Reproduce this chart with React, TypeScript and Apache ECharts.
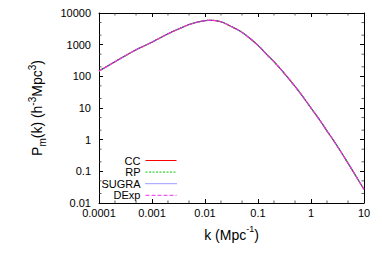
import React, { useEffect, useRef } from "react";
import * as echarts from "echarts";

// wavenumber k (h/Mpc)
const kValues = [0.0001, 0.0002, 0.0005, 0.001, 0.002, 0.003, 0.005, 0.007, 0.01, 0.013, 0.017, 0.022, 0.03, 0.04, 0.05, 0.07, 0.1, 0.15, 0.2, 0.3, 0.5, 0.7, 1, 1.5, 2, 3, 5, 7, 10];
// matter power spectra for the four models (visually identical)
const ccP = [148, 290, 690, 1200, 2200, 3000, 4300, 5100, 5750, 5900, 5650, 5000, 3850, 3050, 2450, 1600, 950, 470, 290, 135, 48, 23, 10, 3.9, 1.9, 0.7, 0.18, 0.072, 0.027];
const rpP = [148, 290, 690, 1200, 2200, 3000, 4300, 5100, 5750, 5900, 5650, 5000, 3850, 3050, 2450, 1600, 950, 470, 290, 135, 48, 23, 10, 3.9, 1.9, 0.7, 0.18, 0.072, 0.027];
const sugraP = [148, 290, 690, 1200, 2200, 3000, 4300, 5100, 5750, 5900, 5650, 5000, 3850, 3050, 2450, 1600, 950, 470, 290, 135, 48, 23, 10, 3.9, 1.9, 0.7, 0.18, 0.072, 0.027];
const dexpP = [148, 290, 690, 1200, 2200, 3000, 4300, 5100, 5750, 5900, 5650, 5000, 3850, 3050, 2450, 1600, 950, 470, 290, 135, 48, 23, 10, 3.9, 1.9, 0.7, 0.18, 0.072, 0.027];

const seriesNames = ["CC", "RP", "SUGRA", "DExp"];

const xTickLabels = ["0.0001", "0.001", "0.01", "0.1", "1", "10"]; // 10^-4 .. 10^1
const yTickLabels = ["0.01", "0.1", "1", "10", "100", "1000", "10000"]; // 10^-2 .. 10^4
const xMin = 0.0001, xMax = 10;
const yMin = 0.01, yMax = 10000;
const minorXTicks = [0.0002, 0.0005, 0.002, 0.005, 0.02, 0.05, 0.2, 0.5, 2, 5];
const minorYTicks = [0.02, 0.05, 0.2, 0.5, 2, 5, 20, 50, 200, 500, 2000, 5000];

const FONT = "'Liberation Sans', Arial, Helvetica, sans-serif";

function pairs(ys: number[]) {
  return kValues.map((k, i) => [k, ys[i]]);
}

export default function App() {
  const ref = useRef<HTMLDivElement>(null);
  useEffect(() => {
    if (!ref.current) return;
    const chart = echarts.init(ref.current, null, { renderer: "svg" });
    const xFmt = (v: number) => xTickLabels[Math.round(Math.log10(v)) + 4] ?? "";
    const yFmt = (v: number) => yTickLabels[Math.round(Math.log10(v)) + 2] ?? "";
    const axisLine = { show: true, onZero: false, lineStyle: { color: "#000", width: 1 } };
    const tickMark = { show: true, inside: true, length: 4, lineStyle: { color: "#000", width: 1 } };
    const minorStyle = { color: "#333" };
    const option: any = {
      animation: false,
      textStyle: { fontFamily: FONT },
      grid: { left: 99, right: 18, top: 13, bottom: 67, containLabel: false, outerBoundsMode: "none" },
      legend: {
        data: seriesNames,
        orient: "vertical",
        align: "right",
        right: 205,
        top: 155,
        padding: 0,
        itemWidth: 31,
        itemHeight: 11,
        itemGap: 0.6,
        selectedMode: false,
        itemStyle: { color: "rgba(0,0,0,0)", borderWidth: 0, opacity: 0 },
        lineStyle: { width: 1 },
        textStyle: { fontFamily: FONT, fontSize: 11, color: "#000", lineHeight: 11 },
      },
      xAxis: [
        {
          type: "log", logBase: 10, min: xMin, max: xMax, position: "bottom",
          axisLine, axisTick: tickMark, splitLine: { show: false },
          axisLabel: { formatter: xFmt, fontSize: 11, color: "#000", margin: 4, fontFamily: FONT },
          name: "{a|k (Mpc}{sup|-1}{a|)}",
          nameLocation: "middle",
          nameGap: 21,
          nameTextStyle: {
            rich: {
              a: { fontSize: 14, fontFamily: FONT, color: "#000", lineHeight: 18, verticalAlign: "bottom" },
              sup: { fontSize: 9, fontFamily: FONT, color: "#000", lineHeight: 18, verticalAlign: "top" },
            },
          },
        },
        {
          type: "log", logBase: 10, min: xMin, max: xMax, position: "top",
          axisLine, axisTick: tickMark, splitLine: { show: false }, axisLabel: { show: false },
        },
      ],
      yAxis: [
        {
          type: "log", logBase: 10, min: yMin, max: yMax, position: "left",
          axisLine, axisTick: tickMark, splitLine: { show: false },
          axisLabel: { formatter: yFmt, fontSize: 11, color: "#000", margin: 8, fontFamily: FONT },
          name: "{a|P}{sub|m}{a|(k) (h}{sup|-3}{a|Mpc}{sup|3}{a|)}",
          nameLocation: "middle",
          nameGap: 52,
          nameRotate: 90,
          nameTextStyle: {
            rich: {
              a: { fontSize: 14, fontFamily: FONT, color: "#000", lineHeight: 20, verticalAlign: "middle" },
              sub: { fontSize: 10, fontFamily: FONT, color: "#000", lineHeight: 20, verticalAlign: "bottom" },
              sup: { fontSize: 10, fontFamily: FONT, color: "#000", lineHeight: 20, verticalAlign: "top" },
            },
          },
        },
        {
          type: "log", logBase: 10, min: yMin, max: yMax, position: "right",
          axisLine, axisTick: tickMark, splitLine: { show: false }, axisLabel: { show: false },
        },
      ],
      series: [
        { name: "CC", type: "line", data: pairs(ccP), smooth: 0.3, symbol: "none", color: "#ff0000", lineStyle: { width: 1.1, color: "#ff0000", type: "solid" } },
        { name: "RP", type: "line", data: pairs(rpP), smooth: 0.3, symbol: "none", color: "#00cc00", lineStyle: { width: 1.1, color: "#00cc00", type: [2, 1.5] } },
        { name: "SUGRA", type: "line", data: pairs(sugraP), smooth: 0.3, symbol: "none", color: "#3a3aff", lineStyle: { width: 1.1, color: "#3a3aff", type: [1, 1] } },
        { name: "DExp", type: "line", data: pairs(dexpP), smooth: 0.3, symbol: "none", color: "#ee33ee", lineStyle: { width: 1.1, color: "#ee33ee", type: [4, 2] } },
        // minor ticks (log 2 and 5) on all four borders
        { type: "scatter", silent: true, clip: false, data: minorXTicks.map((k) => [k, yMin]), symbol: "rect", symbolSize: [1, 2.5], symbolOffset: [0, -1.25], itemStyle: minorStyle },
        { type: "scatter", silent: true, clip: false, data: minorXTicks.map((k) => [k, yMax]), symbol: "rect", symbolSize: [1, 2.5], symbolOffset: [0, 1.25], itemStyle: minorStyle },
        { type: "scatter", silent: true, clip: false, data: minorYTicks.map((p) => [xMin, p]), symbol: "rect", symbolSize: [2.5, 1], symbolOffset: [1.25, 0], itemStyle: minorStyle },
        { type: "scatter", silent: true, clip: false, data: minorYTicks.map((p) => [xMax, p]), symbol: "rect", symbolSize: [2.5, 1], symbolOffset: [-1.25, 0], itemStyle: minorStyle },
      ],
    };
    chart.setOption(option);
    return () => chart.dispose();
  }, []);
  return (
    <div
      ref={ref}
      style={{ position: "absolute", left: 0, top: 0, width: 382, height: 270, background: "#fff" }}
    />
  );
}
